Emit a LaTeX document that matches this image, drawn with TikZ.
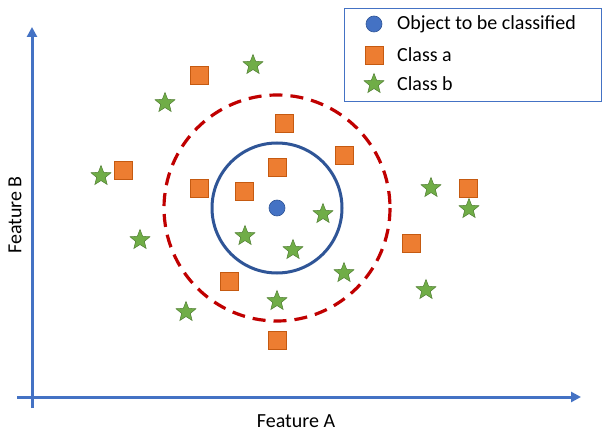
\documentclass[tikz,border=0pt]{standalone}
\usepackage{fontspec}
\setmainfont{Carlito}
\usetikzlibrary{shapes.geometric,arrows.meta}
\definecolor{axisblue}{HTML}{4472C4}
\definecolor{darkblue}{HTML}{2F5597}
\definecolor{dred}{HTML}{C00000}
\definecolor{orng}{HTML}{ED7D31}
\definecolor{orngdk}{HTML}{C55A11}
\definecolor{grn}{HTML}{70AD47}
\definecolor{grndk}{HTML}{507E32}
\tikzset{
  sq/.style={rectangle, fill=orng, draw=orngdk, line width=0.6pt, minimum size=18pt, inner sep=0pt},
  st/.style={star, star points=5, star point ratio=2.3, fill=grn, draw=grndk, line width=0.5pt, minimum size=21pt, inner sep=0pt},
  obj/.style={circle, fill=axisblue, draw=darkblue, line width=0.6pt, minimum size=16pt, inner sep=0pt},
  axis/.style={axisblue, line width=3pt, -{Triangle[length=10pt,width=10pt]}},
  lbl/.style={font=\fontsize{20}{22}\selectfont, inner sep=0pt},
}
\begin{document}
\begin{tikzpicture}[x=1pt,y=-1pt]
\useasboundingbox (0,0) rectangle (603,433);
\fill[white] (0,0) rectangle (603,433);
% axes
\coordinate (ystart) at (32,408);
\coordinate (yend) at (32,27);
\coordinate (xstart) at (17,397);
\coordinate (xend) at (581,397);
\draw[axis] (ystart) -- (yend);
\draw[axis] (xstart) -- (xend);
\node[lbl] (fa) at (296,421) {Feature A};
\node[lbl, rotate=90] (fb) at (15,215) {Feature B};
% circles
\node[obj] (o) at (277,208) {};
\draw[darkblue, line width=3pt] (o.center) circle (65);
\draw[dred, line width=3.2pt, dash pattern=on 13pt off 8pt] (o.center) circle (113);
% squares
\node[sq] (s1) at (199,75) {};
\node[sq] (s2) at (284,123) {};
\node[sq] (s3) at (344,155) {};
\node[sq] (s4) at (277,167) {};
\node[sq] (s5) at (199,188) {};
\node[sq] (s6) at (244,191) {};
\node[sq] (s7) at (123,170) {};
\node[sq] (s8) at (468,188) {};
\node[sq] (s9) at (411,243) {};
\node[sq] (s10) at (229,281) {};
\node[sq] (s11) at (277,340) {};
% stars
\node[st] (t1) at (253,65) {};
\node[st] (t2) at (165,103) {};
\node[st] (t3) at (101,176) {};
\node[st] (t4) at (140,240) {};
\node[st] (t5) at (245,236) {};
\node[st] (t6) at (293,250) {};
\node[st] (t7) at (323,214) {};
\node[st] (t8) at (344,273) {};
\node[st] (t9) at (277,301) {};
\node[st] (t10) at (186,312) {};
\node[st] (t11) at (431,188) {};
\node[st] (t12) at (469,209) {};
\node[st] (t13) at (426,290) {};
% legend
\draw[axisblue, line width=1pt] (344,9) rectangle (601,102);
\node[obj] (lo) at (374,24) {};
\node[lbl, anchor=west] (lot) at (397,24) {Object to be classified};
\node[sq] (ls) at (374,55) {};
\node[lbl, anchor=west] (lst) at (397,55) {Class a};
\node[st] (lt) at (374,84) {};
\node[lbl, anchor=west] (ltt) at (397,84) {Class b};
\end{tikzpicture}
\end{document}
